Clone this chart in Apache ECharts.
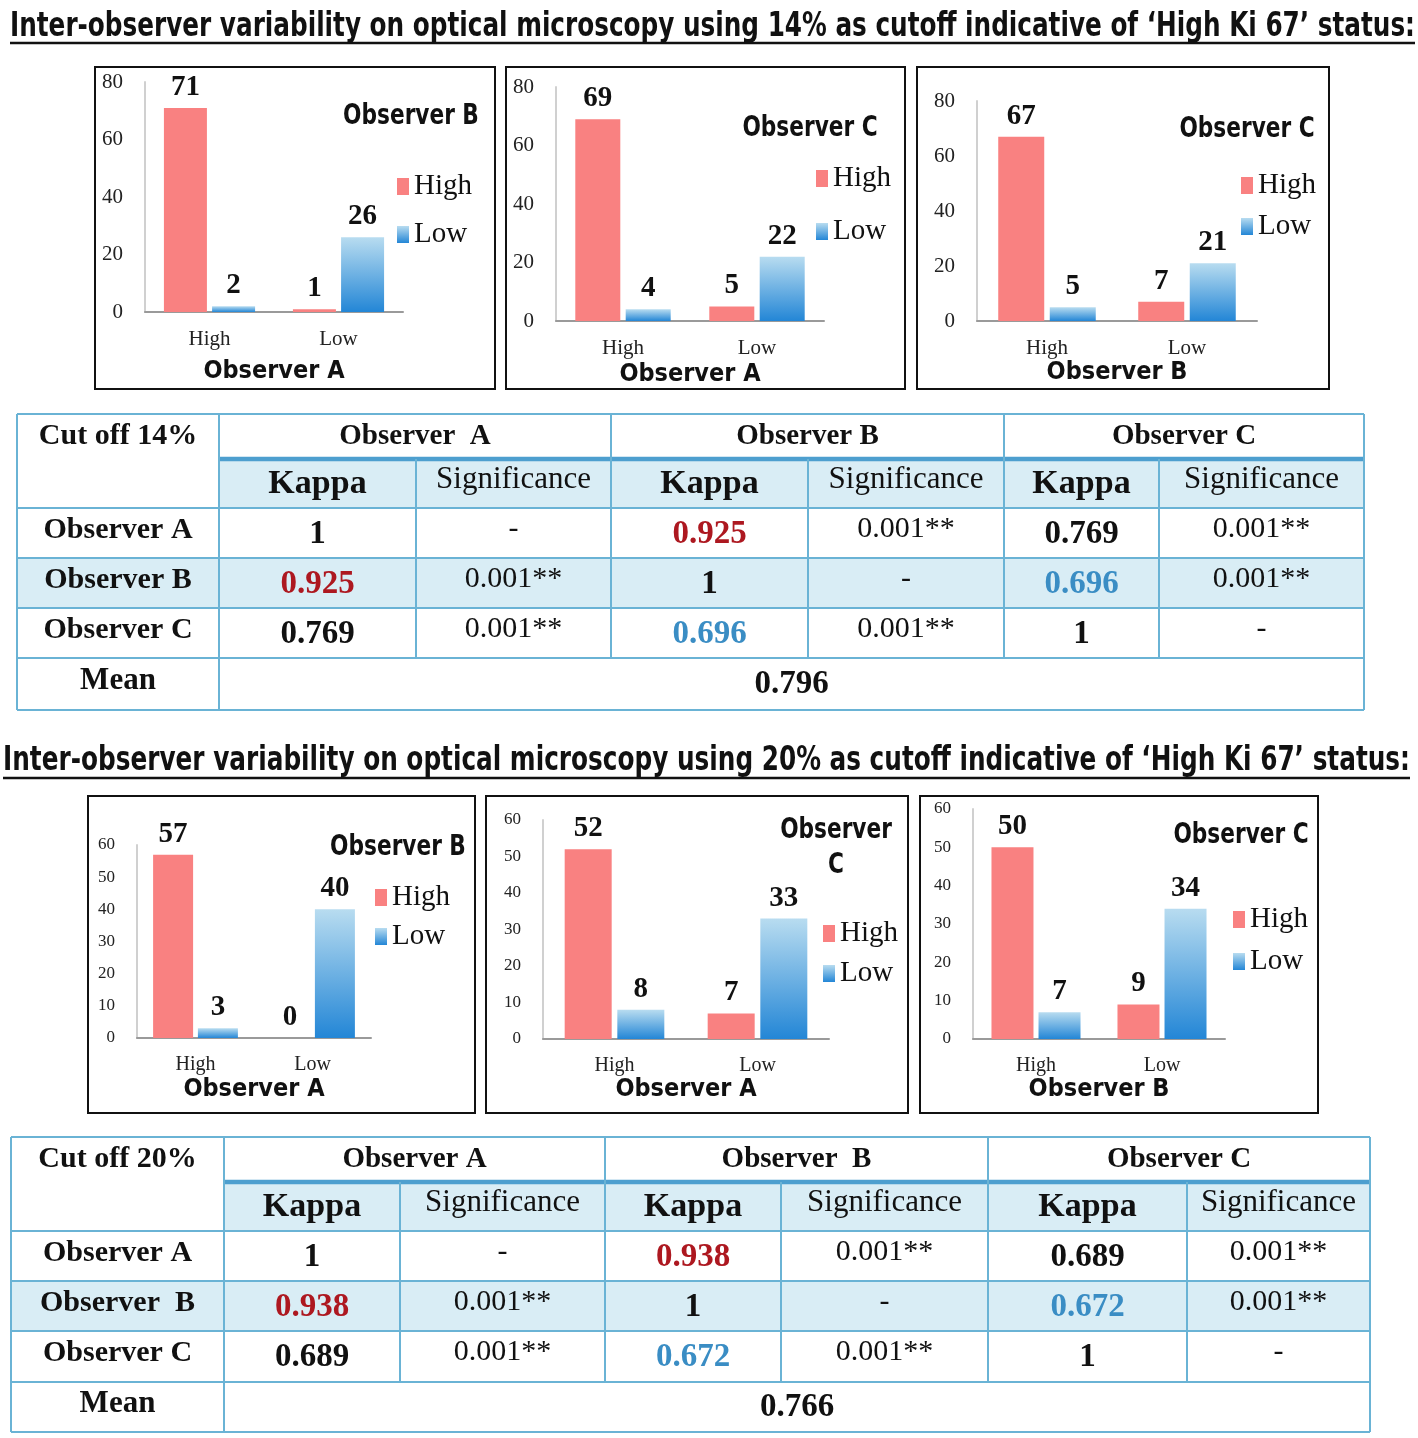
<!DOCTYPE html>
<html><head><meta charset="utf-8">
<script src="https://cdn.jsdelivr.net/npm/echarts@6/dist/echarts.min.js"></script>
<style>html,body{margin:0;padding:0;background:#fff}#c{width:1418px;height:1438px}</style>
</head><body><div id="c"></div><script>
// ---------------- DATA ----------------
const titleTexts = [
  "Inter-observer variability on optical microscopy using 14% as cutoff indicative of \u2018High Ki 67\u2019 status:",
  "Inter-observer variability on optical microscopy using 20% as cutoff indicative of \u2018High Ki 67\u2019 status:"
];
const categories = ['High', 'Low'];
const seriesNames = ['High', 'Low'];
const xAxisNames = ['Observer A', 'Observer A', 'Observer B', 'Observer A', 'Observer A', 'Observer B'];
const legendTitles = ['Observer B', 'Observer C', 'Observer C', 'Observer B', 'Observer\nC', 'Observer C'];
const highValues = [[71, 1], [69, 5], [67, 7], [57, 0], [52, 7], [50, 9]];
const lowValues = [[2, 26], [4, 22], [5, 21], [3, 40], [8, 33], [7, 34]];
const yMaxes = [80, 80, 80, 60, 60, 60];
const yIntervals = [20, 20, 20, 10, 10, 10];

const cutoffLabels = ['Cut off 14%', 'Cut off 20%'];
const colHeaders14 = ['Observer  A', 'Observer B', 'Observer C'];
const colHeaders20 = ['Observer A', 'Observer  B', 'Observer C'];
const rowLabels14 = ['Observer A', 'Observer B', 'Observer C'];
const rowLabels20 = ['Observer A', 'Observer  B', 'Observer C'];
const subHeaders = ['Kappa', 'Significance'];
const kappa14 = [[1, 0.925, 0.769], [0.925, 1, 0.696], [0.769, 0.696, 1]];
const kappa20 = [[1, 0.938, 0.689], [0.938, 1, 0.672], [0.689, 0.672, 1]];
const sig14 = [['-', '0.001**', '0.001**'], ['0.001**', '-', '0.001**'], ['0.001**', '0.001**', '-']];
const sig20 = [['-', '0.001**', '0.001**'], ['0.001**', '-', '0.001**'], ['0.001**', '0.001**', '-']];
const meanLabel = 'Mean';
const means = [0.796, 0.766];

// ---------------- STYLE / LAYOUT ----------------
const SERIF = "'Liberation Serif','Times New Roman',serif";
const NARROW = "'Liberation Sans Narrow','Arial Narrow','DejaVu Sans Condensed',sans-serif";
const PINK = '#f98181';
const BLUE_GRAD = {type: 'linear', x: 0, y: 0, x2: 0, y2: 1,
  colorStops: [{offset: 0, color: '#b8dcf0'}, {offset: 1, color: '#2386d6'}]};
const RED_TXT = '#ad1820';
const BLUE_TXT = '#3a8dc4';
const GRID_LINE = '#6ab3d5';
const THICK_LINE = '#4d9fcf';
const CELL_FILL = '#d9edf5';

const chartLayout = [
  {box: [95, 67, 400, 322], grid: [145, 82, 258, 230], bw: 43, tick: 21, cat: 21, nameGap: 47, catMargin: 17, legTitle: [411, 117], leg: [392, 167, 19]},
  {box: [506, 67, 399, 322], grid: [556, 87, 268, 234], bw: 45, tick: 21, cat: 21, nameGap: 41, catMargin: 17, legTitle: [810, 129], leg: [811, 159, 24]},
  {box: [917, 67, 412, 322], grid: [977, 101, 280, 220], bw: 46, tick: 21, cat: 21, nameGap: 38, catMargin: 17, legTitle: [1247, 130], leg: [1236, 166, 12]},
  {box: [88, 796, 387, 317], grid: [137, 845, 234, 193], bw: 40, tick: 17, cat: 20, nameGap: 39, catMargin: 17, legTitle: [398, 848], leg: [370, 878, 10]},
  {box: [486, 796, 422, 317], grid: [543, 820, 286, 219], bw: 47, tick: 17, cat: 20, nameGap: 38, catMargin: 17, legTitle: [836, 848], leg: [818, 914, 11]},
  {box: [920, 796, 398, 317], grid: [973, 809, 252, 230], bw: 42, tick: 17, cat: 20, nameGap: 38, catMargin: 17, legTitle: [1241, 836], leg: [1228, 900, 13]}
];
const tableLayouts = [
  {colX: [17, 219, 416, 611, 808, 1004, 1159, 1364], rowY: [414, 459, 508, 558, 608, 658, 710]},
  {colX: [11, 224, 400, 605, 781, 988, 1187, 1370], rowY: [1137, 1182, 1231, 1281, 1331, 1382, 1432]}
];
const titleLayouts = [{x: 10, w: 1405, y: 27, uy: 43}, {x: 3, w: 1407, y: 761, uy: 778}];

// ---------------- HELPERS ----------------
function measure(text, font) {
  const c = document.createElement('canvas').getContext('2d');
  c.font = font; return c.measureText(text).width;
}
function txt(x, y, text, size, weight, color, family, align, extra) {
  const st = Object.assign({text: text, x: 0, y: 0, fill: color || '#111', fontSize: size, fontWeight: weight || 'normal',
    fontFamily: family || SERIF, align: align || 'center', verticalAlign: 'middle',
    textAlign: align || 'center', textVerticalAlign: 'middle'}, extra || {});
  return {type: 'text', x: x, y: y, z: 10, style: st, silent: true};
}
function line(x1, y1, x2, y2, color, w) {
  return {type: 'line', z: 5, shape: {x1, y1, x2, y2}, style: {stroke: color, lineWidth: w}, silent: true};
}
function kappaText(v) { return v === 1 ? '1' : v.toFixed(3); }
function kappaColor(r, c) {
  const a = Math.min(r, c), b = Math.max(r, c);
  if (a === 0 && b === 1) return RED_TXT;
  if (a === 1 && b === 2) return BLUE_TXT;
  return '#111';
}

const graphics = [];
// Titles
titleTexts.forEach((t, i) => {
  const L = titleLayouts[i];
  const font = "bold 33px " + NARROW;
  const w = measure(t, font);
  const s = L.w / w;
  graphics.push({type: 'text', x: L.x, y: L.y, scaleX: s, z: 10, silent: true,
    style: {text: t, fill: '#111', fontSize: 33, fontWeight: 'bold', fontFamily: NARROW,
      align: 'left', verticalAlign: 'middle', textAlign: 'left', textVerticalAlign: 'middle'}});
  graphics.push(line(L.x, L.uy, L.x + L.w, L.uy, '#111', 2.5));
});
// Chart boxes and legend titles
chartLayout.forEach((c, i) => {
  graphics.push({type: 'rect', z: 1, shape: {x: c.box[0], y: c.box[1], width: c.box[2], height: c.box[3]},
    style: {fill: 'none', stroke: '#111', lineWidth: 2}, silent: true});
  const t = txt(c.legTitle[0], c.legTitle[1], legendTitles[i], 28, 'bold', '#111', NARROW, 'center', {lineHeight: 35});
  t.scaleX = 0.86;
  graphics.push(t);
});
// Tables
function buildTable(L, cutoff, colHeads, rowLabs, kappa, sig, mean) {
  const X = L.colX, Y = L.rowY;
  graphics.push({type: 'rect', z: 2, shape: {x: X[1], y: Y[1], width: X[7] - X[1], height: Y[2] - Y[1]}, style: {fill: CELL_FILL}, silent: true});
  graphics.push({type: 'rect', z: 2, shape: {x: X[0], y: Y[3], width: X[7] - X[0], height: Y[4] - Y[3]}, style: {fill: CELL_FILL}, silent: true});
  [0, 2, 3, 4, 5, 6].forEach(k => graphics.push(line(X[0], Y[k], X[7], Y[k], GRID_LINE, 2)));
  graphics.push(line(X[1], Y[1], X[7], Y[1], THICK_LINE, 4.5));
  [0, 1, 7].forEach(k => graphics.push(line(X[k], Y[0], X[k], Y[6], GRID_LINE, 2)));
  [3, 5].forEach(k => graphics.push(line(X[k], Y[0], X[k], Y[5], GRID_LINE, 2)));
  [2, 4, 6].forEach(k => graphics.push(line(X[k], Y[1], X[k], Y[5], GRID_LINE, 2)));
  const cy = k => (Y[k] + Y[k + 1]) / 2;
  const c0 = (X[0] + X[1]) / 2;
  graphics.push(txt(c0, cy(0), cutoff, 30, 'bold'));
  for (let j = 0; j < 3; j++) {
    const xa = X[1 + 2 * j], xb = X[2 + 2 * j], xc = X[3 + 2 * j];
    graphics.push(txt((xa + xc) / 2, cy(0), colHeads[j], 29, 'bold'));
    graphics.push(txt((xa + xb) / 2, cy(1) + 1, subHeaders[0], 34, 'bold'));
    graphics.push(txt((xb + xc) / 2, cy(1) - 4, subHeaders[1], 31, 'normal'));
  }
  for (let r = 0; r < 3; r++) {
    graphics.push(txt(c0, cy(2 + r) - 3, rowLabs[r], 30, 'bold'));
    for (let j = 0; j < 3; j++) {
      const xa = X[1 + 2 * j], xb = X[2 + 2 * j], xc = X[3 + 2 * j];
      graphics.push(txt((xa + xb) / 2, cy(2 + r) + 1, kappaText(kappa[r][j]), 33, 'bold', kappaColor(r, j)));
      graphics.push(txt((xb + xc) / 2, cy(2 + r) - 4, sig[r][j], 30, 'normal'));
    }
  }
  graphics.push(txt(c0, cy(5) - 3, meanLabel, 31, 'bold'));
  graphics.push(txt((X[1] + X[7]) / 2, cy(5), mean.toFixed(3), 33, 'bold'));
}
buildTable(tableLayouts[0], cutoffLabels[0], colHeaders14, rowLabels14, kappa14, sig14, means[0]);
buildTable(tableLayouts[1], cutoffLabels[1], colHeaders20, rowLabels20, kappa20, sig20, means[1]);

// ---------------- CHART OPTION ----------------
const grids = [], xAxes = [], yAxes = [], series = [], legends = [];
chartLayout.forEach((c, i) => {
  grids.push({left: c.grid[0], top: c.grid[1], width: c.grid[2], height: c.grid[3]});
  xAxes.push({type: 'category', gridIndex: i, data: categories,
    name: xAxisNames[i], nameLocation: 'middle', nameGap: c.nameGap,
    nameTextStyle: {fontFamily: NARROW, fontSize: 25, fontWeight: 'bold', color: '#111'},
    axisLine: {lineStyle: {color: '#9a9a9a', width: 2}}, axisTick: {show: false},
    axisLabel: {fontFamily: SERIF, fontSize: c.cat, color: '#222', margin: c.catMargin}});
  yAxes.push({type: 'value', gridIndex: i, min: 0, max: yMaxes[i], interval: yIntervals[i],
    axisLine: {show: true, lineStyle: {color: '#d0d0d0', width: 2}}, axisTick: {show: false},
    splitLine: {show: false},
    axisLabel: {fontFamily: SERIF, fontSize: c.tick, color: '#222', margin: 22}});
  const label = {show: true, position: 'top', distance: 6, fontFamily: SERIF, fontWeight: 'bold', fontSize: 29, color: '#111'};
  series.push({type: 'bar', name: seriesNames[0], xAxisIndex: i, yAxisIndex: i, data: highValues[i],
    barWidth: c.bw, barGap: '12%', itemStyle: {color: PINK}, label: label});
  series.push({type: 'bar', name: seriesNames[1], xAxisIndex: i, yAxisIndex: i, data: lowValues[i],
    barWidth: c.bw, barGap: '12%', itemStyle: {color: BLUE_GRAD}, label: label});
  legends.push({orient: 'vertical', left: c.leg[0], top: c.leg[1], itemGap: c.leg[2],
    itemWidth: 12, itemHeight: 17, icon: 'rect', data: seriesNames, selectedMode: false,
    textStyle: {fontFamily: SERIF, fontSize: 29, color: '#111', lineHeight: 28}});
});

const chart = echarts.init(document.getElementById('c'), null, {renderer: 'canvas'});
chart.setOption({
  backgroundColor: '#fff',
  animation: false,
  grid: grids, xAxis: xAxes, yAxis: yAxes, series: series, legend: legends,
  graphic: graphics
});
</script></body></html>
